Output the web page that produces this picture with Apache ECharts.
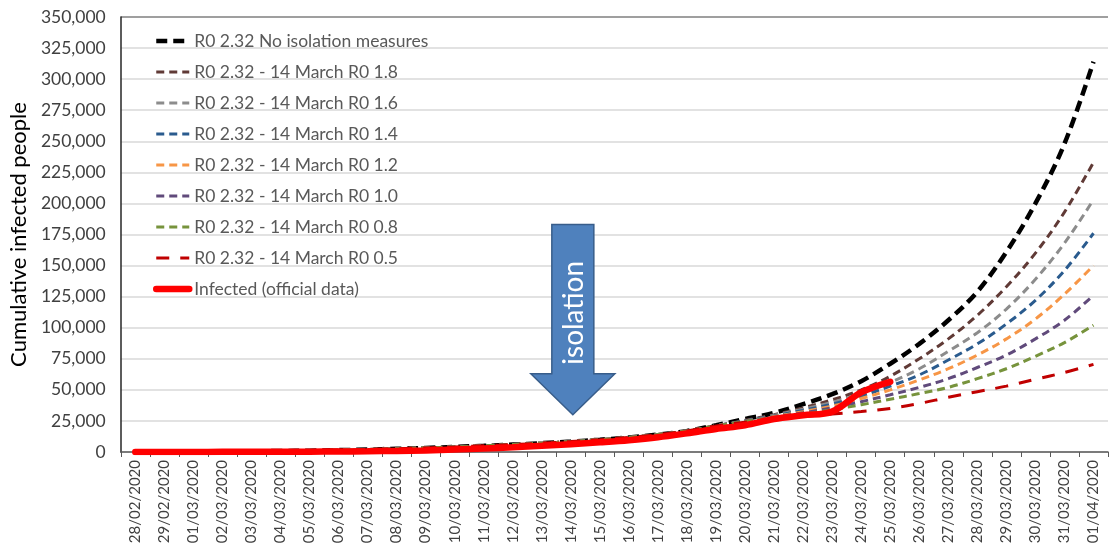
<!DOCTYPE html>
<html>
<head>
<meta charset="utf-8">
<script src="https://cdn.jsdelivr.net/npm/echarts@6/dist/echarts.min.js"></script>
<style>
  html, body { margin: 0; padding: 0; background: #fff; }
  #chart { width: 1110px; height: 547px; }
</style>
</head>
<body>
<div id="chart"></div>
<script>
const dates = [
  '28/02/2020', '29/02/2020', '01/03/2020', '02/03/2020', '03/03/2020', '04/03/2020',
  '05/03/2020', '06/03/2020', '07/03/2020', '08/03/2020', '09/03/2020', '10/03/2020',
  '11/03/2020', '12/03/2020', '13/03/2020', '14/03/2020', '15/03/2020', '16/03/2020',
  '17/03/2020', '18/03/2020', '19/03/2020', '20/03/2020', '21/03/2020', '22/03/2020',
  '23/03/2020', '24/03/2020', '25/03/2020', '26/03/2020', '27/03/2020', '28/03/2020',
  '29/03/2020', '30/03/2020', '31/03/2020', '01/04/2020',
]
const yTicks = [0, 350000, 25000] // min, max, step

// model runs share the same path up to 18/03
const commonStart = [100, 200, 300, 400, 600, 800, 1100, 1500, 2000, 2600, 3300, 4100,
  5000, 6000, 7100, 8400, 9900, 11700, 14000, 17000]

// 19/03 .. 01/04
const noIsolationTail = [21500, 26500, 31500, 38500, 46500, 57000, 71000, 87000, 106000, 129000, 161000, 200000, 248000, 314000]
const r18Tail = [21000, 25500, 30000, 35500, 42000, 50000, 61000, 75000, 91000, 110000, 133000, 160000, 193000, 233000]
const r16Tail = [21000, 25000, 29500, 34500, 40000, 47000, 56000, 67000, 81000, 96000, 115000, 139000, 168000, 203000]
const r14Tail = [21000, 25000, 29000, 33500, 38500, 45000, 53000, 62000, 74000, 87000, 103000, 122000, 146000, 176000]
const r12Tail = [21000, 24500, 28500, 32500, 37000, 43000, 50000, 58000, 67000, 78000, 91000, 107000, 127000, 150000]
const r10Tail = [21000, 24500, 28000, 31500, 35500, 40500, 46000, 52000, 59000, 68000, 78000, 91000, 106000, 126000]
const r08Tail = [21000, 24500, 27500, 30500, 34000, 38000, 42500, 47000, 52000, 59000, 67000, 77000, 88000, 102000]
const r05Tail = [21000, 24000, 26500, 28500, 30500, 32500, 35000, 39000, 44000, 48500, 53000, 58500, 64000, 70500]

const officialInfected = [30, 50, 80, 120, 170, 220, 300, 400, 600, 900, 1300, 2000, 2800, 3800,
  5000, 6300, 7800, 9500, 11800, 15000, 18500, 21500, 26500, 29500, 32500, 48000, 56500]

const scenarios = [
  { name: 'R0 2.32 No isolation measures', tail: noIsolationTail, color: '#000000', width: 4.5, dash: [11, 6] },
  { name: 'R0 2.32 - 14 March R0 1.8', tail: r18Tail, color: '#603a36', width: 3, dash: [8, 5] },
  { name: 'R0 2.32 - 14 March R0 1.6', tail: r16Tail, color: '#8c8c8c', width: 3, dash: [8, 5] },
  { name: 'R0 2.32 - 14 March R0 1.4', tail: r14Tail, color: '#2a5b8e', width: 3, dash: [8, 5] },
  { name: 'R0 2.32 - 14 March R0 1.2', tail: r12Tail, color: '#f79646', width: 3, dash: [8, 5] },
  { name: 'R0 2.32 - 14 March R0 1.0', tail: r10Tail, color: '#604a7b', width: 3, dash: [8, 5] },
  { name: 'R0 2.32 - 14 March R0 0.8', tail: r08Tail, color: '#77933c', width: 3, dash: [8, 5] },
  { name: 'R0 2.32 - 14 March R0 0.5', tail: r05Tail, color: '#c00000', width: 3, dash: [13, 11] },
]
const officialName = 'Infected (official data)'

const font = 'Lato, "Noto Sans", sans-serif'
const chart = echarts.init(document.getElementById('chart'))

const series = scenarios.map(s => ({
  name: s.name,
  type: 'line',
  smooth: 0.35,
  symbol: 'none',
  data: commonStart.concat(s.tail),
  lineStyle: { color: s.color, width: s.width, type: s.dash },
  itemStyle: { color: s.color },
}))
series.push({
  name: officialName,
  type: 'line',
  smooth: 0.35,
  symbol: 'none',
  data: officialInfected,
  lineStyle: { color: '#ff0000', width: 6.5, cap: 'round' },
  itemStyle: { color: '#ff0000' },
  z: 5,
})

// grid lines light grey, the top one darker like the plot border
const splitColors = []
for (let v = yTicks[0]; v <= yTicks[1]; v += yTicks[2]) {
  splitColors.push(v === yTicks[1] ? '#7f7f7f' : '#d9d9d9')
}

chart.setOption({
  animation: false,
  backgroundColor: '#fff',
  textStyle: { fontFamily: font },
  grid: { left: 118, right: 2, top: 17, bottom: 95 },
  legend: {
    orient: 'vertical',
    left: 148,
    top: 27,
    itemWidth: 33,
    itemHeight: 14,
    itemGap: 13,
    itemStyle: { opacity: 0 },
    lineStyle: { width: 'inherit' },
    textStyle: { color: '#595959', fontSize: 17.5, fontFamily: font },
    data: scenarios.map(s => s.name).concat([officialName]),
  },
  xAxis: {
    type: 'category',
    data: dates,
    axisLine: { lineStyle: { color: '#595959', width: 1.5 } },
    axisTick: { show: true, length: 5, lineStyle: { color: '#595959' } },
    axisLabel: { rotate: 90, color: '#404040', fontSize: 15, margin: 8, fontFamily: font },
  },
  yAxis: {
    type: 'value',
    min: yTicks[0],
    max: yTicks[1],
    interval: yTicks[2],
    name: 'Cumulative infected people',
    nameLocation: 'middle',
    nameGap: 86,
    nameTextStyle: { fontSize: 22, color: '#000', fontFamily: font },
    axisLine: { show: true, lineStyle: { color: '#262626', width: 1.5 } },
    axisTick: { show: false },
    axisLabel: {
      color: '#404040',
      fontSize: 17.5,
      margin: 15,
      fontFamily: font,
      formatter: v => v.toLocaleString('en-US'),
    },
    splitLine: { lineStyle: { color: splitColors, width: 1.5 } },
  },
  series: series,
})

// "isolation" block arrow pointing at 14 March
const cx = chart.convertToPixel({ xAxisIndex: 0 }, 15) + 2
const tipY = chart.convertToPixel({ yAxisIndex: 0 }, 30000)
const headY = chart.convertToPixel({ yAxisIndex: 0 }, 63000)
const topY = chart.convertToPixel({ yAxisIndex: 0 }, 183000)
const textY = chart.convertToPixel({ yAxisIndex: 0 }, 112000)
chart.setOption({
  graphic: [
    {
      type: 'polygon',
      z: 100,
      shape: {
        points: [
          [cx - 21, topY], [cx + 21, topY], [cx + 21, headY], [cx + 42, headY],
          [cx, tipY], [cx - 42, headY], [cx - 21, headY],
        ],
      },
      style: { fill: '#4f81bd', stroke: '#385d8a', lineWidth: 1.5 },
    },
    {
      type: 'text',
      z: 101,
      x: cx + 1,
      y: textY,
      rotation: Math.PI / 2,
      style: {
        text: 'isolation',
        fill: '#fff',
        font: '28px ' + font,
        align: 'center',
        verticalAlign: 'middle',
      },
    },
  ],
})
</script>
</body>
</html>
